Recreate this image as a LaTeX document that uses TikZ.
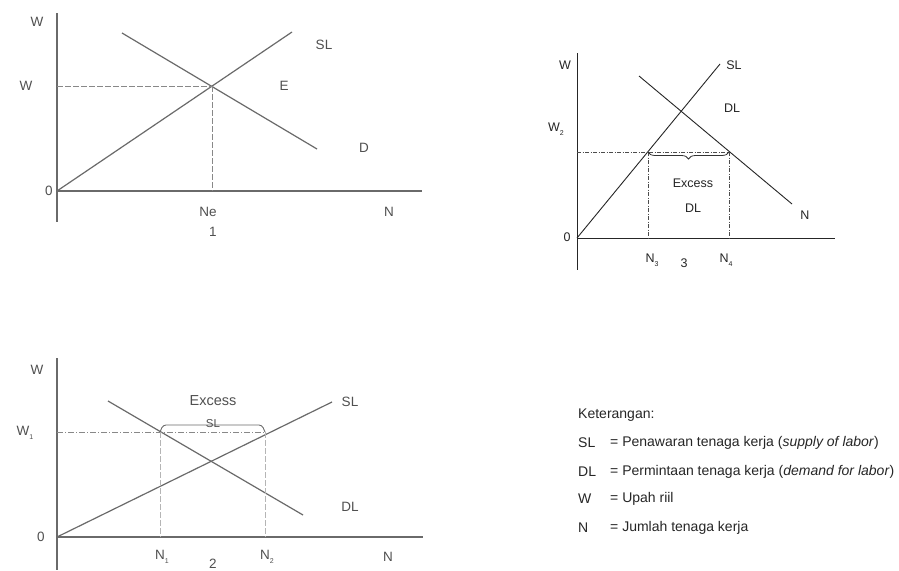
\documentclass[tikz,border=0pt]{standalone}
\usepackage{fontspec}
\setmainfont{Liberation Sans}
\usetikzlibrary{decorations.pathreplacing}
\definecolor{glab}{HTML}{505050}
\definecolor{gline}{HTML}{6A6A6A}
\tikzset{
  axisA/.style={draw=gline, line width=1.3pt},
  curveA/.style={draw=gline, line width=1.2pt},
  guideA/.style={draw=gline!80, line width=0.7pt, dash pattern=on 6pt off 2pt},
  guideAd/.style={draw=gline!80, line width=0.7pt, dash pattern=on 6pt off 2pt on 1pt off 2pt},
  labA/.style={text=glab, font=\fontsize{13.5}{15}\selectfont, inner sep=0pt},
  axisB/.style={draw=black!85, line width=0.9pt},
  curveB/.style={draw=black!85, line width=0.9pt},
  guideB/.style={draw=black!70, line width=0.6pt, dash pattern=on 4pt off 1.5pt on 1pt off 1.5pt},
  labB/.style={text=black!85, font=\fontsize{12.5}{14}\selectfont, inner sep=0pt},
  legtxt/.style={text=black!85, font=\fontsize{14}{16}\selectfont, inner sep=0pt, anchor=west},
}
\newcommand{\lsub}[1]{\raisebox{-4.5pt}{\fontsize{7}{8}\selectfont #1}}
\begin{document}
\begin{tikzpicture}[x=1pt,y=-1pt]
\useasboundingbox (0,0) rectangle (899,570);
\fill[white] (0,0) rectangle (899,570);

% ---------- Panel 1 ----------
\coordinate (o1) at (57,191);
\coordinate (ytop1) at (57,13);
\coordinate (ybot1) at (57,222);
\coordinate (xend1) at (422,191);
\coordinate (sl1a) at (292,32);
\coordinate (d1a) at (122,33);
\coordinate (d1b) at (317,149);
\coordinate (e1) at (212,86);
\coordinate (w1y) at (57,86);
\coordinate (ne1) at (212,191);
\draw[axisA] (ytop1) -- (ybot1);
\draw[axisA] (o1) -- (xend1);
\draw[curveA] (o1) -- (sl1a);
\draw[curveA] (d1a) -- (d1b);
\draw[guideA] (w1y) -- (e1);
\draw[guideA] (e1) -- (ne1);
\node[labA] (p1W) at (37,22) {W};
\node[labA] (p1Wm) at (26,86) {W};
\node[labA] (p1O) at (49,191) {0};
\node[labA] (p1SL) at (324,45) {SL};
\node[labA] (p1E) at (284,86) {E};
\node[labA] (p1D) at (364,148) {D};
\node[labA] (p1Ne) at (208,212) {Ne};
\node[labA] (p1n) at (213,232) {1};
\node[labA] (p1N) at (389,212) {N};

% ---------- Panel 2 ----------
\coordinate (o2) at (57,537);
\coordinate (ytop2) at (57,358);
\coordinate (ybot2) at (57,570);
\coordinate (xend2) at (423,537);
\coordinate (sl2a) at (332,402);
\coordinate (d2a) at (108,401);
\coordinate (d2b) at (303,515);
\coordinate (w2y) at (57,432);
\coordinate (n1t) at (160,432);
\coordinate (n2t) at (265,432);
\coordinate (n1b) at (160,537);
\coordinate (n2b) at (265,537);
\draw[axisA] (ytop2) -- (ybot2);
\draw[axisA] (o2) -- (xend2);
\draw[curveA] (o2) -- (sl2a);
\draw[curveA] (d2a) -- (d2b);
\draw[guideAd] (w2y) -- (n2t);
\draw[guideA, line width=1pt, draw=gline!50] (n1t) -- (n1b);
\draw[guideA, line width=1pt, draw=gline!50] (n2t) -- (n2b);
\draw[draw=gline, line width=0.9pt, rounded corners=3pt] (n1t) -- (163,425) -- (262,425) -- (n2t);
\node[labA, font=\fontsize{14.5}{16}\selectfont] (p2Ex) at (213,401) {Excess};
\node[labA, font=\fontsize{11.5}{13}\selectfont] (p2ExSL) at (213,424) {SL};
\node[labA] (p2W) at (37,370) {W};
\node[labA] (p2W1) at (25,433) {W\lsub{1}};
\node[labA] (p2O) at (41,537) {0};
\node[labA] (p2SL) at (350,402) {SL};
\node[labA] (p2DL) at (350,507) {DL};
\node[labA] (p2N1) at (162,557) {N\lsub{1}};
\node[labA] (p2N2) at (267,557) {N\lsub{2}};
\node[labA] (p2n) at (213,564) {2};
\node[labA] (p2N) at (388,557) {N};

% ---------- Panel 3 ----------
\coordinate (o3) at (577,238);
\coordinate (ytop3) at (577,53);
\coordinate (ybot3) at (577,270);
\coordinate (xend3) at (835,238);
\coordinate (sl3a) at (720,64);
\coordinate (d3a) at (639,76);
\coordinate (d3b) at (792,204);
\coordinate (w3y) at (577,152);
\coordinate (n3t) at (648,152);
\coordinate (n4t) at (729,152);
\coordinate (n3b) at (648,238);
\coordinate (n4b) at (729,238);
\draw[axisB] (ytop3) -- (ybot3);
\draw[axisB] (o3) -- (xend3);
\draw[curveB] (o3) -- (sl3a);
\draw[curveB] (d3a) -- (d3b);
\draw[guideB] (w3y) -- (n4t);
\draw[guideB] (n3t) -- (n3b);
\draw[guideB] (n4t) -- (n4b);
\draw[black!80, line width=0.8pt, decorate, decoration={brace, mirror, amplitude=7pt}] (n3t) -- (n4t);
\node[labB] (p3W) at (565,65) {W};
\node[labB] (p3W2) at (556,129) {W\lsub{2}};
\node[labB] (p3O) at (567,237) {0};
\node[labB] (p3SL) at (734,65) {SL};
\node[labB] (p3DL) at (732,108) {DL};
\node[labB] (p3Ex) at (693,183) {Excess};
\node[labB] (p3DL2) at (693,208) {DL};
\node[labB] (p3N) at (805,215) {N};
\node[labB] (p3N3) at (652,260) {N\lsub{3}};
\node[labB] (p3n) at (684,263) {3};
\node[labB] (p3N4) at (726,260) {N\lsub{4}};

% ---------- Legend ----------
\node[legtxt] (kt) at (578,415) {Keterangan:};
\node[legtxt] (kSL) at (578,443) {SL};
\node[legtxt] (kDL) at (578,472) {DL};
\node[legtxt] (kW) at (578,499) {W};
\node[legtxt] (kN) at (578,528) {N};
\node[legtxt] (dSL) at (610,443) {= Penawaran tenaga kerja (\textit{supply of labor})};
\node[legtxt] (dDL) at (610,472) {= Permintaan tenaga kerja (\textit{demand for labor})};
\node[legtxt] (dW) at (610,499) {= Upah riil};
\node[legtxt] (dN) at (610,528) {= Jumlah tenaga kerja};
\end{tikzpicture}
\end{document}
